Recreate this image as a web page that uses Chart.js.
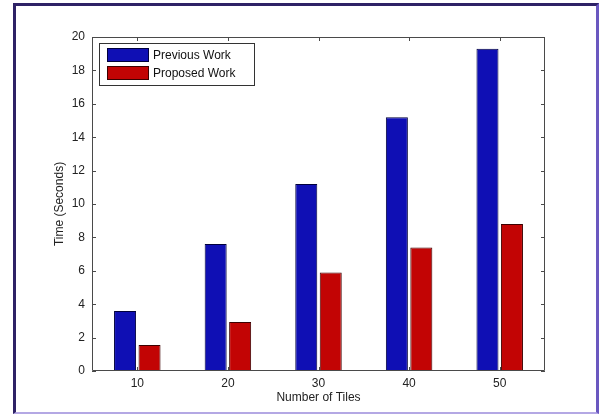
<!DOCTYPE html>
<html>
<head>
<meta charset="utf-8">
<script src="https://cdn.jsdelivr.net/npm/chart.js@4/dist/chart.umd.min.js"></script>
<style>
  html, body { margin: 0; padding: 0; background: #fff; }
  #wrap { position: relative; width: 600px; height: 414px; }
  #frame {
    position: absolute; left: 13px; top: 3px; width: 580px; height: 406px;
    border-left: 3px solid #2e2266; border-top: 3px solid #2e2266;
    border-right: 3px solid #6a58c0; border-bottom: 2px solid #b4a8e4;
    pointer-events: none;
  }
</style>
</head>
<body>
<div id="wrap">
  <canvas id="myChart" width="600" height="414"></canvas>
  <div id="frame"></div>
</div>
<script>
const tiles = ['10', '20', '30', '40', '50'];
const previousWork = [3.6, 7.6, 11.2, 15.2, 19.3];
const proposedWork = [1.55, 2.93, 5.9, 7.4, 8.8];
const yTicks = [0, 2, 4, 6, 8, 10, 12, 14, 16, 18, 20];

const FONT = '"Liberation Sans", Arial, sans-serif';
const AXIS_COLOR = '#4a4a4a';

// box, inner ticks on all four sides, and legend inside the plot (MATLAB look)
const matlabAxes = {
    id: 'matlabAxes',
    afterDatasetsDraw(chart) {
        const {ctx, chartArea: a, scales: {x, y}} = chart;
        ctx.save();
        ctx.strokeStyle = AXIS_COLOR;
        ctx.lineWidth = 1;
        ctx.beginPath();
        ctx.rect(a.left + 0.5, a.top + 0.5, a.right - a.left - 1, a.bottom - a.top - 1);
        ctx.stroke();

        const len = 4;
        ctx.beginPath();
        y.ticks.forEach((t, i) => {
            const py = Math.round(y.getPixelForTick(i)) + 0.5;
            ctx.moveTo(a.left, py); ctx.lineTo(a.left + len, py);
            ctx.moveTo(a.right, py); ctx.lineTo(a.right - len, py);
        });
        x.ticks.forEach((t, i) => {
            const px = Math.round(x.getPixelForTick(i)) + 0.5;
            ctx.moveTo(px, a.bottom); ctx.lineTo(px, a.bottom - len);
            ctx.moveTo(px, a.top); ctx.lineTo(px, a.top + len);
        });
        ctx.stroke();

        // legend
        const lx = a.left + 7, ly = a.top + 6, lw = 155, lh = 42;
        ctx.fillStyle = '#fff';
        ctx.fillRect(lx, ly, lw, lh);
        ctx.strokeStyle = '#333';
        ctx.strokeRect(lx + 0.5, ly + 0.5, lw, lh);
        ctx.font = '12px ' + FONT;
        ctx.textBaseline = 'middle';
        chart.data.datasets.forEach((ds, i) => {
            const sy = ly + 5 + i * 18;
            ctx.fillStyle = ds.backgroundColor;
            ctx.fillRect(lx + 8, sy, 42, 14);
            ctx.strokeStyle = ds.borderColor;
            ctx.strokeRect(lx + 8.5, sy + 0.5, 41, 13);
            ctx.fillStyle = '#111';
            ctx.fillText(ds.label, lx + 54, sy + 7.5);
        });
        ctx.restore();
    }
};

new Chart(document.getElementById('myChart').getContext('2d'), {
    type: 'bar',
    data: {
        labels: tiles,
        datasets: [{
            label: 'Previous Work',
            data: previousWork,
            backgroundColor: '#0f0fb4',
            borderColor: '#00003c',
            borderWidth: 1,
        }, {
            label: 'Proposed Work',
            data: proposedWork,
            backgroundColor: '#c20404',
            borderColor: '#3c0000',
            borderWidth: 1,
        }]
    },
    options: {
        responsive: false,
        animation: false,
        layout: { padding: { left: 0, top: 37, right: 55, bottom: 0 } },
        datasets: { bar: { categoryPercentage: 0.54, barPercentage: 0.9 } },
        plugins: { legend: { display: false }, tooltip: { enabled: false } },
        scales: {
            x: {
                grid: { display: false, drawTicks: false },
                border: { display: false },
                ticks: { color: '#222', font: { family: FONT, size: 12 }, padding: 5 },
                title: {
                    display: true, text: 'Number of Tiles', color: '#222',
                    font: { family: FONT, size: 12 }, padding: { top: 0, bottom: 9 }
                },
                afterFit(scale) { scale.height = 43; }
            },
            y: {
                min: 0, max: 20,
                afterBuildTicks(scale) { scale.ticks = yTicks.map(v => ({ value: v })); },
                grid: { display: false, drawTicks: false },
                border: { display: false },
                ticks: { color: '#222', font: { family: FONT, size: 12 }, padding: 7 },
                title: {
                    display: true, text: 'Time (Seconds)', color: '#222',
                    font: { family: FONT, size: 12 }, padding: { top: 52, bottom: 0 }
                },
                afterFit(scale) { scale.width = 92; }
            }
        }
    },
    plugins: [matlabAxes]
});
</script>
</body>
</html>
